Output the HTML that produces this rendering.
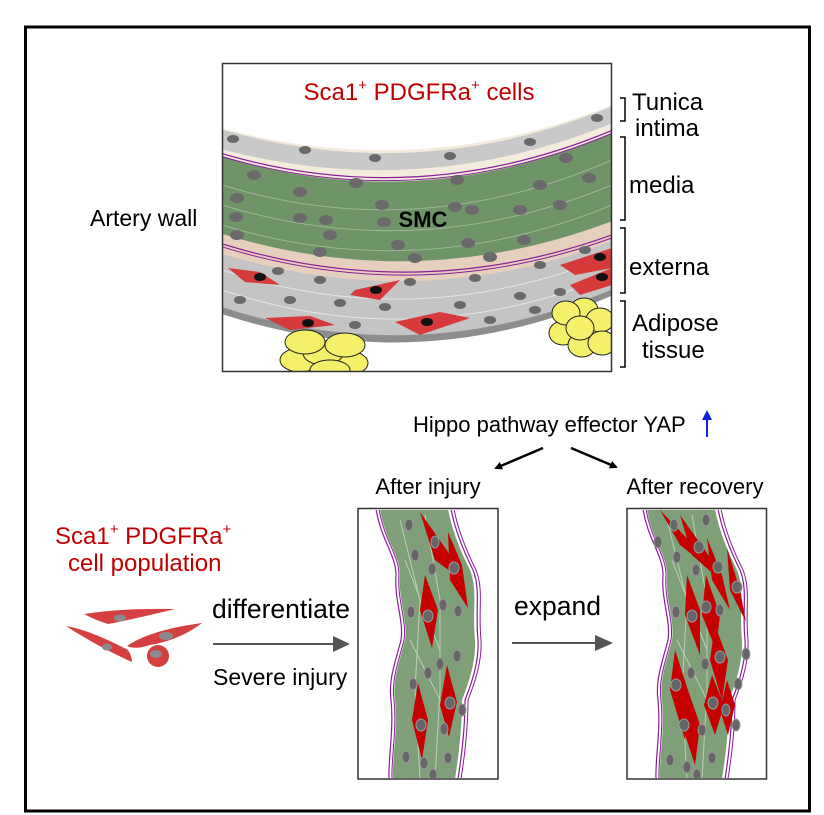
<!DOCTYPE html>
<html><head><meta charset="utf-8"><style>
html,body{margin:0;padding:0;background:#fff}
svg{display:block}
text{font-family:"Liberation Sans",Arial,sans-serif}
</style></head><body>
<svg width="824" height="815" viewBox="0 0 824 815" xmlns="http://www.w3.org/2000/svg">
<defs>
<marker id="ab" markerWidth="8" markerHeight="8" refX="6" refY="4" orient="auto" markerUnits="userSpaceOnUse"><path d="M0,0 L8,4 L0,8 z" fill="#000"/></marker>
<clipPath id="topclip"><rect x="223" y="64" width="388" height="307"/></clipPath>
<clipPath id="pclip"><rect x="359" y="510" width="138" height="268"/></clipPath>
<clipPath id="pclip2"><rect x="628" y="510" width="137" height="268"/></clipPath>
<g id="band">
<path d="M380,509 C385,540 400,555 400,575 C398,600 408,620 405,640 C400,660 392,680 395,700 C398,730 392,760 393,779 L455,779 C458,760 462,730 462,700 C470,680 476,660 475,640 C472,610 478,590 470,570 C460,550 452,530 448,509 Z" fill="#7f9f78"/>
<path d="M376,509 C381,540 396,555 396,575 C394,600 404,620 401,640 C396,660 388,680 391,700 C394,730 388,760 389,779" fill="none" stroke="#8a1c9a" stroke-width="1.2"/>
<path d="M379,509 C384,540 399,555 399,575 C397,600 407,620 404,640 C399,660 391,680 394,700 C397,730 391,760 392,779" fill="none" stroke="#8a1c9a" stroke-width="1"/>
<path d="M451,509 C455,530 463,550 473,570 C481,590 475,610 478,640 C479,660 473,680 465,700 C465,730 461,760 458,779" fill="none" stroke="#8a1c9a" stroke-width="1.2"/>
<path d="M454,509 C458,530 466,550 476,570 C484,590 478,610 481,640 C482,660 476,680 468,700 C468,730 464,760 461,779" fill="none" stroke="#8a1c9a" stroke-width="1"/>
<g stroke="#c8dcc4" stroke-width="1" fill="none" opacity="0.8">
<path d="M400,520 L420,600 L415,690 L420,779"/><path d="M425,515 L440,600 L440,690 L435,779"/><path d="M405,560 L440,650"/><path d="M410,640 L450,720"/>
</g>
</g>
</defs>

<rect x="25.5" y="27" width="784" height="784" fill="#fff" stroke="#000" stroke-width="3"/>

<!-- top artery panel -->
<g clip-path="url(#topclip)">
<rect x="223" y="64" width="388" height="307" fill="#fff"/>
<path d="M210,125 Q417,185 620,102 L620,140 Q417,215 210,160 Z" fill="#f3ecdc"/>
<path d="M210,126 Q417,190 620,103 L620,120 Q417,205 210,146 Z" fill="#c9c9c9"/>
<path d="M210,153 Q417,220 620,130 L620,235 Q417,315 210,245 Z" fill="#6f9468"/>
<path d="M210,230 Q417,298 620,218 L620,240 Q417,318 210,255 Z" fill="#e6cfbd"/>
<path d="M210,250 Q417,318 620,238 L620,290 Q417,380 210,308 Z" fill="#c4c4c4"/>
<path d="M210,303 Q417,375 620,286 L620,292 Q417,383 210,310 Z" fill="#8d8d8d"/>
<path d="M210,150 Q417,215 620,127" fill="none" stroke="#8a1c9a" stroke-width="1.2"/>
<path d="M210,153 Q417,218 620,130" fill="none" stroke="#8a1c9a" stroke-width="1"/>
<path d="M210,240 Q417,308 620,232" fill="none" stroke="#8a1c9a" stroke-width="1.2"/>
<path d="M210,243 Q417,311 620,235" fill="none" stroke="#8a1c9a" stroke-width="1"/>
<g stroke="#9cb896" stroke-width="1" fill="none">
<path d="M222,185 Q417,245 612,160"/><path d="M222,205 Q417,265 612,185"/><path d="M222,225 Q417,285 612,205"/>
</g>
<g stroke="#e4e4e4" stroke-width="1" fill="none">
<path d="M222,270 Q417,335 612,255"/><path d="M222,290 Q417,355 612,275"/>
</g>
<g fill="#d63a3a">
<path d="M228,268 L260,272 L280,285 L245,282 Z"/>
<path d="M355,290 L400,280 L380,300 L350,295 Z"/>
<path d="M265,318 L310,316 L335,325 L290,330 Z"/>
<path d="M395,322 L440,312 L470,318 L420,335 Z"/>
<path d="M560,265 L612,248 L612,268 L575,275 Z"/>
<path d="M570,285 L612,268 L612,285 L580,295 Z"/>
</g>
<g fill="#111">
<ellipse cx="260" cy="277" rx="6" ry="4"/><ellipse cx="376" cy="290" rx="6" ry="4"/>
<ellipse cx="308" cy="323" rx="6" ry="4"/><ellipse cx="427" cy="322" rx="6" ry="4"/>
<ellipse cx="600" cy="257" rx="6" ry="4"/><ellipse cx="602" cy="277" rx="6" ry="4"/>
</g>
<g fill="#6a6a6a">
<ellipse cx="233" cy="139" rx="6" ry="4"/><ellipse cx="305" cy="150" rx="6" ry="4"/><ellipse cx="375" cy="158" rx="6" ry="4"/><ellipse cx="450" cy="156" rx="6" ry="4"/><ellipse cx="530" cy="142" rx="6" ry="4"/><ellipse cx="597" cy="118" rx="6" ry="4"/>
<ellipse cx="254" cy="175" rx="7" ry="5"/><ellipse cx="356" cy="183" rx="7" ry="5"/><ellipse cx="457" cy="180" rx="7" ry="5"/><ellipse cx="566" cy="158" rx="7" ry="5"/>
<ellipse cx="237" cy="198" rx="7" ry="5"/><ellipse cx="300" cy="192" rx="7" ry="5"/><ellipse cx="382" cy="205" rx="7" ry="5"/><ellipse cx="455" cy="207" rx="7" ry="5"/><ellipse cx="540" cy="185" rx="7" ry="5"/><ellipse cx="589" cy="178" rx="7" ry="5"/>
<ellipse cx="236" cy="217" rx="7" ry="5"/><ellipse cx="300" cy="218" rx="7" ry="5"/><ellipse cx="326" cy="220" rx="7" ry="5"/><ellipse cx="384" cy="222" rx="7" ry="5"/><ellipse cx="472" cy="210" rx="7" ry="5"/><ellipse cx="520" cy="210" rx="7" ry="5"/><ellipse cx="560" cy="205" rx="7" ry="5"/>
<ellipse cx="237" cy="235" rx="7" ry="5"/><ellipse cx="330" cy="235" rx="7" ry="5"/><ellipse cx="398" cy="245" rx="7" ry="5"/><ellipse cx="468" cy="243" rx="7" ry="5"/><ellipse cx="524" cy="240" rx="7" ry="5"/>
<ellipse cx="320" cy="252" rx="7" ry="5"/><ellipse cx="415" cy="258" rx="7" ry="5"/><ellipse cx="490" cy="257" rx="7" ry="5"/>
<ellipse cx="278" cy="271" rx="6" ry="4"/><ellipse cx="320" cy="280" rx="6" ry="4"/><ellipse cx="410" cy="282" rx="6" ry="4"/><ellipse cx="475" cy="278" rx="6" ry="4"/><ellipse cx="540" cy="265" rx="6" ry="4"/><ellipse cx="585" cy="250" rx="6" ry="4"/>
<ellipse cx="240" cy="300" rx="6" ry="4"/><ellipse cx="290" cy="300" rx="6" ry="4"/><ellipse cx="340" cy="303" rx="6" ry="4"/><ellipse cx="385" cy="307" rx="6" ry="4"/><ellipse cx="460" cy="305" rx="6" ry="4"/><ellipse cx="520" cy="296" rx="6" ry="4"/><ellipse cx="560" cy="292" rx="6" ry="4"/>
<ellipse cx="355" cy="325" rx="6" ry="4"/><ellipse cx="490" cy="320" rx="6" ry="4"/><ellipse cx="535" cy="310" rx="6" ry="4"/>
</g>
<g fill="#f5f06a" stroke="#222" stroke-width="1">
<ellipse cx="300" cy="360" rx="20" ry="12"/><ellipse cx="348" cy="363" rx="20" ry="12"/><ellipse cx="323" cy="353" rx="20" ry="12"/><ellipse cx="305" cy="342" rx="20" ry="12"/><ellipse cx="345" cy="345" rx="20" ry="12"/>
<ellipse cx="330" cy="370" rx="20" ry="10"/>
<ellipse cx="563" cy="333" rx="14" ry="12"/><ellipse cx="584" cy="310" rx="14" ry="12"/><ellipse cx="600" cy="320" rx="14" ry="12"/><ellipse cx="582" cy="345" rx="14" ry="12"/><ellipse cx="602" cy="343" rx="14" ry="12"/><ellipse cx="566" cy="313" rx="14" ry="12"/><ellipse cx="580" cy="328" rx="14" ry="12"/>
</g>
</g>
<rect x="222.5" y="63.5" width="389" height="308" fill="none" stroke="#333" stroke-width="1.5"/>
<text x="419" y="100" font-size="24" fill="#c00000" text-anchor="middle">Sca1<tspan font-size="15" dy="-10">+</tspan><tspan dy="10"> PDGFRa</tspan><tspan font-size="15" dy="-10">+</tspan><tspan dy="10"> cells</tspan></text>
<text x="423" y="227" font-size="22" font-weight="bold" fill="#000" text-anchor="middle">SMC</text>
<text x="90" y="226" font-size="23" fill="#000">Artery wall</text>

<g fill="none" stroke="#000" stroke-width="1.5">
<path d="M620,98 H625 V121 H620"/>
<path d="M620,137 H625 V220 H620"/>
<path d="M620,228 H625 V293 H620"/>
<path d="M620,301 H625 V367 H620"/>
</g>
<g font-size="24" fill="#000">
<text x="632" y="110">Tunica</text>
<text x="635" y="136">intima</text>
<text x="629" y="193">media</text>
<text x="629" y="275">externa</text>
<text x="632" y="331">Adipose</text>
<text x="642" y="358">tissue</text>
</g>

<text x="413" y="432" font-size="22" fill="#000">Hippo pathway effector YAP</text>
<line x1="707" y1="437" x2="707" y2="418" stroke="#1020e0" stroke-width="2"/>
<path d="M702,420 L707,410 L712,420 Z" fill="#1020e0"/>
<line x1="543" y1="448" x2="496" y2="468" stroke="#000" stroke-width="2.5" marker-end="url(#ab)"/>
<line x1="571" y1="448" x2="616" y2="467" stroke="#000" stroke-width="2.5" marker-end="url(#ab)"/>
<text x="428" y="494" font-size="22" fill="#000" text-anchor="middle">After injury</text>
<text x="695" y="494" font-size="22" fill="#000" text-anchor="middle">After recovery</text>

<text x="55" y="544" font-size="24" fill="#c00000">Sca1<tspan font-size="15" dy="-10">+</tspan><tspan dy="10"> PDGFRa</tspan><tspan font-size="15" dy="-10">+</tspan></text>
<text x="68" y="571" font-size="24" fill="#c00000">cell population</text>
<g fill="#d44040">
<path d="M84,614 Q120,608 175,609 Q130,620 108,624 Q95,620 84,614 Z"/>
<path d="M66,626 Q90,630 128,650 Q132,656 132,662 Q100,648 66,626 Z"/>
<path d="M127,646 Q150,630 202,623 Q180,640 150,645 Q135,650 127,646 Z"/>
<circle cx="158" cy="656" r="11"/>
</g>
<g fill="#8a8a8a"><ellipse cx="120" cy="618" rx="6" ry="3.5"/><ellipse cx="107" cy="647" rx="5" ry="3.5"/><ellipse cx="166" cy="636" rx="7" ry="4"/><ellipse cx="156" cy="654" rx="6" ry="4"/></g>
<text x="212" y="618" font-size="26.5" fill="#000">differentiate</text>
<line x1="213" y1="644" x2="335" y2="644" stroke="#555" stroke-width="2"/>
<path d="M333,636 L350,644 L333,652 Z" fill="#555"/>
<text x="213" y="685" font-size="23" fill="#000">Severe injury</text>
<text x="514" y="615" font-size="26.5" fill="#000">expand</text>
<line x1="512" y1="643" x2="597" y2="643" stroke="#555" stroke-width="2"/>
<path d="M595,635 L613,643 L595,651 Z" fill="#555"/>

<g clip-path="url(#pclip)">
<use href="#band"/>
<g fill="#c50000">
<path d="M420,512 L448,552 L462,580 L435,560 Z"/>
<path d="M448,532 L462,565 L468,608 L450,580 Z"/>
<path d="M425,575 L438,610 L432,648 L420,610 Z"/>
<path d="M447,665 L457,702 L449,737 L440,705 Z"/>
<path d="M418,683 L428,720 L422,760 L412,720 Z"/>
</g>
<g fill="#666" stroke="#999" stroke-width="1">
<ellipse cx="409" cy="525" rx="4" ry="6"/><ellipse cx="415" cy="555" rx="4" ry="6"/><ellipse cx="435" cy="542" rx="4" ry="6"/><ellipse cx="454" cy="568" rx="5" ry="6"/><ellipse cx="432" cy="569" rx="4" ry="6"/>
<ellipse cx="411" cy="612" rx="4" ry="6"/><ellipse cx="428" cy="616" rx="5" ry="6"/><ellipse cx="443" cy="605" rx="4" ry="6"/><ellipse cx="458" cy="611" rx="4" ry="6"/>
<ellipse cx="457" cy="656" rx="4" ry="6"/><ellipse cx="440" cy="664" rx="4" ry="6"/><ellipse cx="428" cy="673" rx="4" ry="6"/><ellipse cx="413" cy="684" rx="4" ry="6"/>
<ellipse cx="450" cy="703" rx="5" ry="6"/><ellipse cx="462" cy="710" rx="4" ry="6"/><ellipse cx="421" cy="725" rx="5" ry="6"/><ellipse cx="444" cy="729" rx="4" ry="6"/>
<ellipse cx="406" cy="757" rx="4" ry="6"/><ellipse cx="424" cy="763" rx="4" ry="6"/><ellipse cx="433" cy="775" rx="4" ry="6"/><ellipse cx="448" cy="758" rx="4" ry="6"/>
</g>
</g>
<rect x="358" y="508.5" width="140" height="270.5" fill="none" stroke="#333" stroke-width="1.5"/>

<g clip-path="url(#pclip2)">
<use href="#band" transform="translate(267,0)"/>
<g fill="#c50000">
<path d="M660,510 L700,552 L705,565 L680,545 Z"/>
<path d="M680,515 L712,560 L720,580 L692,555 Z"/>
<path d="M707,538 L722,575 L730,610 L712,580 Z"/>
<path d="M727,548 L740,590 L746,622 L730,590 Z"/>
<path d="M687,575 L700,610 L700,655 L685,615 Z"/>
<path d="M706,575 L720,615 L716,650 L702,615 Z"/>
<path d="M715,625 L728,660 L722,700 L710,660 Z"/>
<path d="M675,650 L688,690 L685,740 L670,690 Z"/>
<path d="M688,690 L700,725 L695,765 L682,725 Z"/>
<path d="M712,675 L724,705 L715,735 L704,705 Z"/>
<path d="M727,680 L735,705 L728,735 L720,710 Z"/>
</g>
<g fill="#666" stroke="#999" stroke-width="1">
<ellipse cx="658" cy="542" rx="4" ry="6"/><ellipse cx="674" cy="525" rx="4" ry="6"/><ellipse cx="706" cy="520" rx="4" ry="6"/><ellipse cx="699" cy="547" rx="5" ry="6"/><ellipse cx="677" cy="557" rx="4" ry="6"/>
<ellipse cx="718" cy="567" rx="5" ry="6"/><ellipse cx="696" cy="570" rx="4" ry="6"/><ellipse cx="737" cy="587" rx="5" ry="6"/>
<ellipse cx="676" cy="612" rx="4" ry="6"/><ellipse cx="692" cy="616" rx="5" ry="6"/><ellipse cx="706" cy="607" rx="5" ry="6"/><ellipse cx="720" cy="610" rx="4" ry="6"/>
<ellipse cx="746" cy="654" rx="4" ry="6"/><ellipse cx="720" cy="657" rx="5" ry="6"/><ellipse cx="705" cy="664" rx="4" ry="6"/><ellipse cx="691" cy="673" rx="4" ry="6"/>
<ellipse cx="676" cy="685" rx="5" ry="6"/><ellipse cx="738" cy="684" rx="4" ry="6"/><ellipse cx="713" cy="703" rx="5" ry="6"/><ellipse cx="726" cy="710" rx="4" ry="6"/>
<ellipse cx="684" cy="725" rx="5" ry="6"/><ellipse cx="702" cy="730" rx="4" ry="6"/><ellipse cx="736" cy="725" rx="4" ry="6"/>
<ellipse cx="670" cy="760" rx="4" ry="6"/><ellipse cx="687" cy="767" rx="4" ry="6"/><ellipse cx="697" cy="775" rx="4" ry="6"/><ellipse cx="712" cy="758" rx="4" ry="6"/>
</g>
</g>
<rect x="627" y="508.5" width="139.5" height="270.5" fill="none" stroke="#333" stroke-width="1.5"/>
</svg>
</body></html>
